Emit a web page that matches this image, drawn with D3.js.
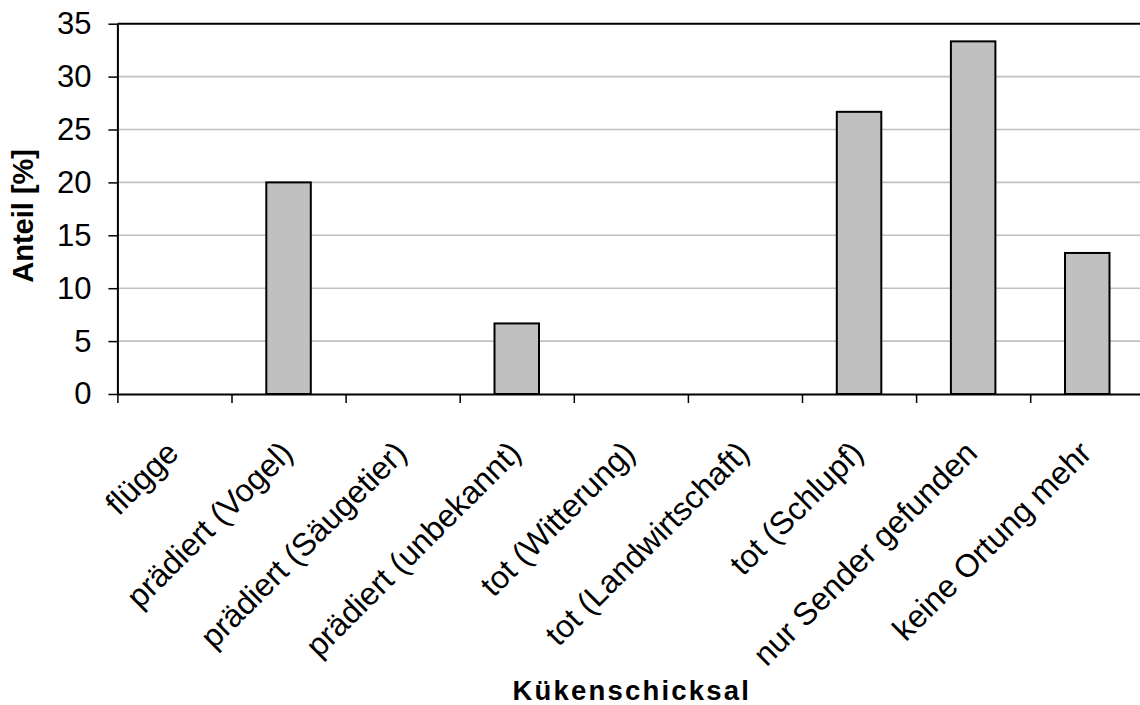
<!DOCTYPE html>
<html>
<head>
<meta charset="utf-8">
<script src="https://cdn.jsdelivr.net/npm/d3@7"></script>
<style>
  html, body { margin: 0; padding: 0; background: #fff; }
  svg { display: block; font-family: "Liberation Sans", Arial, sans-serif; }
</style>
</head>
<body>
<svg id="chart" width="1140" height="705"></svg>
<script>
// Fate of tracked chicks (share of all chicks, percent)
const categories = [
  "flügge",
  "prädiert (Vogel)",
  "prädiert (Säugetier)",
  "prädiert (unbekannt)",
  "tot (Witterung)",
  "tot (Landwirtschaft)",
  "tot (Schlupf)",
  "nur Sender gefunden",
  "keine Ortung mehr"
];
const shares = [0, 20, 0, 6.67, 0, 0, 26.67, 33.33, 13.33];
const yTicks = [0, 5, 10, 15, 20, 25, 30, 35];
const xTitle = "Kükenschicksal";
const yTitle = "Anteil [%]";

const svg = d3.select("#chart");
const W = 1140, H = 705;
const plotLeft = 117.4, plotTop = 23.7, plotBottom = 394;
const step = 114.1;
const plotRight = plotLeft + step * categories.length;

const x = d3.scaleBand()
  .domain(categories)
  .range([plotLeft, plotRight])
  .paddingInner(0.61)
  .paddingOuter(0.305);

// category boundaries, for the tick marks between groups
const xEdges = d3.scaleLinear().domain([0, categories.length]).range([plotLeft, plotRight]);

const y = d3.scaleLinear().domain([0, 35]).range([plotBottom, plotTop]);

// horizontal gridlines
svg.append("g")
  .selectAll("line")
  .data(yTicks.filter(v => v > 0 && v < 35))
  .join("line")
  .attr("x1", plotLeft).attr("x2", W)
  .attr("y1", d => y(d)).attr("y2", d => y(d))
  .attr("stroke", "#c0c0c0")
  .attr("stroke-width", 1.6);

// plot-area top border
svg.append("line")
  .attr("x1", plotLeft).attr("x2", W)
  .attr("y1", y(35)).attr("y2", y(35))
  .attr("stroke", "#000").attr("stroke-width", 2);

// bars
svg.append("g")
  .selectAll("rect")
  .data(categories.map((c, i) => ({ c, v: shares[i] })).filter(d => d.v > 0))
  .join("rect")
  .attr("x", d => x(d.c))
  .attr("width", x.bandwidth())
  .attr("y", d => y(d.v))
  .attr("height", d => y(0) - y(d.v))
  .attr("fill", "#c0c0c0")
  .attr("stroke", "#000")
  .attr("stroke-width", 2);

// y axis
const yAxis = svg.append("g")
  .attr("transform", `translate(${plotLeft},0)`)
  .call(d3.axisLeft(y).tickValues(yTicks).tickSize(9).tickSizeOuter(0).tickPadding(17));
yAxis.select(".domain").attr("stroke", "#000").attr("stroke-width", 2);
yAxis.selectAll(".tick line").attr("stroke", "#000").attr("stroke-width", 1.5);
yAxis.selectAll(".tick text")
  .attr("font-size", 31)
  .attr("font-family", "Liberation Sans, Arial, sans-serif")
  .attr("fill", "#000");

// x axis with ticks on the category boundaries
const xAxis = svg.append("g")
  .attr("transform", `translate(0,${plotBottom})`)
  .call(d3.axisBottom(xEdges).tickValues(d3.range(0, categories.length + 1))
    .tickSize(9).tickSizeOuter(0).tickFormat(""));
xAxis.select(".domain").attr("stroke", "#000").attr("stroke-width", 2);
xAxis.selectAll(".tick line").attr("stroke", "#000").attr("stroke-width", 1.5);

// slanted category labels, ending at each category centre
svg.append("g")
  .selectAll("text")
  .data(categories)
  .join("text")
  .attr("transform", d => `translate(${x(d) + x.bandwidth() / 2 + 6},455) rotate(-45)`)
  .attr("text-anchor", "end")
  .attr("font-size", 32)
  .attr("fill", "#000")
  .text(d => d);

// axis titles
svg.append("text")
  .attr("x", (plotLeft + plotRight) / 2 + 1)
  .attr("y", 700)
  .attr("text-anchor", "middle")
  .attr("font-size", 27.5)
  .attr("font-weight", "bold")
  .attr("letter-spacing", 2.2)
  .text(xTitle);

svg.append("text")
  .attr("transform", `translate(33,${(plotTop + plotBottom) / 2 + 7}) rotate(-90)`)
  .attr("text-anchor", "middle")
  .attr("font-size", 29)
  .attr("font-weight", "bold")
  .text(yTitle);
</script>
</body>
</html>
